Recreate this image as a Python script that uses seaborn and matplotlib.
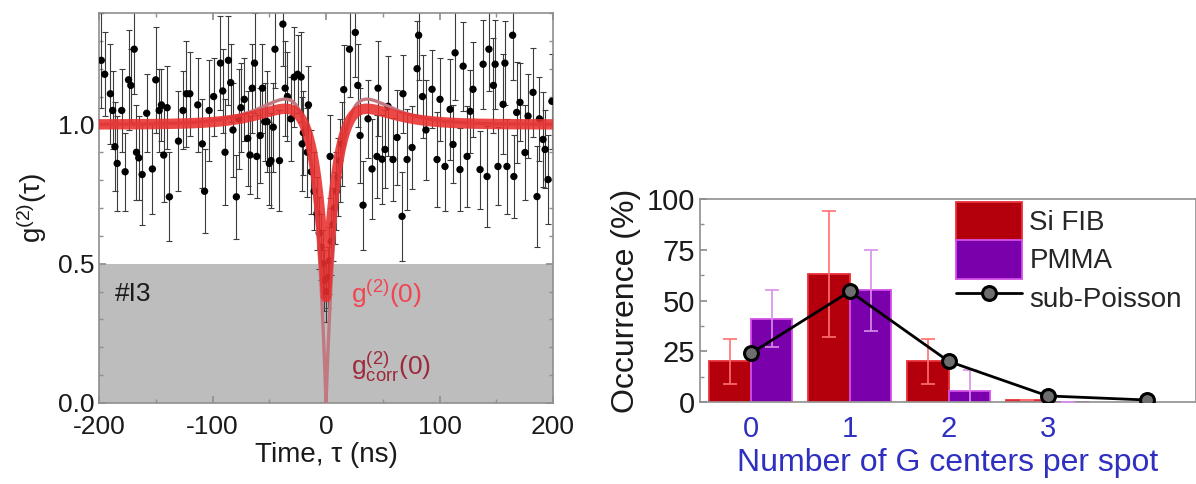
import numpy as np
import pandas as pd
import matplotlib
matplotlib.use("Agg")
import matplotlib.pyplot as plt
import seaborn as sns
from matplotlib.patches import Patch
from matplotlib.lines import Line2D
from matplotlib.ticker import MultipleLocator

# ---------------- data: second-order correlation of emitter #I3 ----------------
tau_ns = [
    -198, -195, -190, -188, -186, -184, -180, -177, -174, -172,
    -169, -167, -165, -162, -158, -153, -150, -147, -145, -143,
    -140, -138, -130, -126, -123, -120, -113, -109, -107, -103,
    -99, -93, -91, -89, -86, -84, -82, -79, -77, -75,
    -72, -69, -67, -65, -63, -61, -58, -56, -54, -52,
    -50, -48.5, -46.5, -45, -41, -38, -36, -34, -31, -28,
    -25, -22, -21, -20, -16.5, -15.5, -13, -10.5, -8, -6,
    -4.5, -3, -1.5, 0, 1.5, 3, 3.6, 4.5, 6, 7.5,
    9, 10.5, 12, 14, 15.6, 20.7, 25.8, 28, 30, 32.6,
    37, 40.5, 44.9, 45.8, 49.4, 52, 54.6, 59, 62.6, 67,
    67.8, 71.4, 75.8, 80.2, 81.6, 85, 88, 93.4, 97.8, 100.4,
    104.8, 109.3, 111.9, 113.7, 118, 120.8, 124.3, 127, 129.5, 135.7,
    138.4, 141.9, 143.5, 147.5, 149, 151.5, 156, 157.6, 159.4, 164.4,
    165.5, 168, 170.9, 175.3, 178, 182.4, 185.9, 188, 191.2, 193,
    195.6, 199,
]
g2_meas = [
    1.23, 1.18, 1.11, 1.05, 0.92, 0.86, 1.05, 0.83, 1.16, 1.14,
    1.27, 0.90, 0.88, 0.82, 1.04, 0.84, 1.16, 1.05, 1.07, 0.89,
    1.06, 0.74, 0.94, 1.05, 1.11, 1.11, 1.07, 0.93, 0.76, 1.05,
    1.10, 1.22, 1.12, 0.90, 1.23, 1.15, 0.98, 0.74, 1.02, 1.06,
    1.09, 0.95, 0.89, 1.13, 1.22, 0.885, 0.96, 1.13, 1.01, 1.01,
    0.86, 0.87, 0.99, 1.27, 0.87, 1.36, 1.13, 1.10, 1.02, 1.17,
    1.18, 1.17, 0.93, 0.97, 0.90, 1.07, 0.83, 0.76, 0.68, 0.61,
    0.56, 0.50, 0.44, 0.40, 0.45, 0.51, 0.885, 0.58, 0.64, 0.70,
    0.76, 0.81, 0.87, 0.93, 1.125, 1.27, 1.33, 1.14, 0.96, 0.71,
    1.02, 0.84, 0.885, 1.13, 0.875, 0.91, 1.065, 0.874, 0.953, 0.67,
    1.11, 0.874, 0.917, 1.20, 1.32, 1.10, 0.98, 1.126, 0.874, 1.09,
    0.849, 1.054, 0.928, 1.257, 0.838, 1.209, 0.885, 1.047, 1.126, 0.838,
    1.216, 0.813, 1.27, 1.14, 1.216, 0.849, 1.072, 1.22, 0.849, 1.32,
    0.813, 1.043, 1.079, 0.899, 1.03, 1.115, 0.741, 1.02, 0.946, 0.91,
    0.802, 1.083,
]
g2_err = [
    0.17, 0.15, 0.18, 0.14, 0.16, 0.17, 0.15, 0.14, 0.18, 0.13,
    0.16, 0.17, 0.15, 0.18, 0.14, 0.16, 0.19, 0.15, 0.13, 0.17,
    0.15, 0.16, 0.18, 0.14, 0.19, 0.15, 0.17, 0.16, 0.15, 0.18,
    0.14, 0.17, 0.15, 0.19, 0.16, 0.14, 0.17, 0.15, 0.18, 0.16,
    0.15, 0.17, 0.14, 0.16, 0.18, 0.15, 0.17, 0.16, 0.14, 0.18,
    0.15, 0.17, 0.16, 0.14, 0.18, 0.15, 0.17, 0.16, 0.15, 0.18,
    0.14, 0.16, 0.17, 0.15, 0.16, 0.14, 0.15, 0.14, 0.13, 0.13,
    0.12, 0.12, 0.11, 0.11, 0.11, 0.12, 0.15, 0.12, 0.13, 0.13,
    0.14, 0.14, 0.15, 0.15, 0.16, 0.17, 0.16, 0.15, 0.17, 0.16,
    0.14, 0.18, 0.15, 0.17, 0.16, 0.14, 0.18, 0.15, 0.17, 0.16,
    0.14, 0.18, 0.15, 0.17, 0.16, 0.15, 0.18, 0.14, 0.17, 0.15,
    0.16, 0.18, 0.14, 0.17, 0.15, 0.16, 0.18, 0.15, 0.17, 0.14,
    0.16, 0.18, 0.15, 0.17, 0.16, 0.14, 0.18, 0.15, 0.17, 0.16,
    0.15, 0.18, 0.14, 0.17, 0.15, 0.16, 0.18, 0.15, 0.17, 0.14,
    0.16, 0.17,
]

# three-level emitter model fitted to the histogram
g2_zero_raw = 0.38      # measured g2(0)
bunch_amp = 0.65        # bunching amplitude
tau_anti = 11.5         # antibunching time (ns)
tau_bunch = 26.0        # bunching time (ns)

# ---------------- data: statistics of G centers per spot ----------------
n_centers = [0, 1, 2, 3]
si_fib = [20, 63, 20, 1]
si_fib_err = [11, 31, 11, 0]
pmma = [41, 55, 5.6, 0]
pmma_err = [14, 20, 10, 0]
poisson_n = [0, 1, 2, 3, 4]
sub_poisson = [24, 54.5, 20, 3, 1]

# ---------------- style ----------------
sns.set_theme(style="ticks")
plt.rcParams["font.family"] = ["Liberation Sans", "DejaVu Sans"]
plt.rcParams["mathtext.fontset"] = "custom"
plt.rcParams["mathtext.rm"] = "Liberation Sans"
plt.rcParams["mathtext.it"] = "Liberation Sans:italic"
plt.rcParams["axes.edgecolor"] = "#8f8f8f"
plt.rcParams["axes.linewidth"] = 1.2
plt.rcParams["axes.unicode_minus"] = False

RED_FIT = "#e8302f"
CORR = "#c27880"
BAR_RED = "#b4000c"
BAR_PURPLE = "#7a00ac"
BLUE = "#2f2fc0"

fig = plt.figure(figsize=(11.96, 4.84), dpi=100)

# ======================= left: g2(tau) =======================
ax = fig.add_axes([0.0828, 0.1674, 0.3796, 0.8058])
ax.axhspan(0, 0.5, color="#bdbdbd", zorder=0, lw=0)

ax.errorbar(tau_ns, g2_meas, yerr=g2_err, fmt="none", ecolor="#3c3c3c",
            elinewidth=0.8, capsize=2.2, capthick=0.8, zorder=2)
sns.scatterplot(x=tau_ns, y=g2_meas, ax=ax, color="black", s=28,
                edgecolor="none", zorder=3)

tau_fit = np.linspace(-200, 200, 4001)
g_corr = (1 - (1 + bunch_amp) * np.exp(-np.abs(tau_fit) / tau_anti)
          + bunch_amp * np.exp(-np.abs(tau_fit) / tau_bunch))
g_raw = 1 - (1 - g2_zero_raw) * (1 - g_corr)

ax.plot(tau_fit, g_corr, color=CORR, lw=2.4, zorder=4)
ax.plot(tau_fit, g_raw, color=RED_FIT, lw=7.5, alpha=0.88, zorder=5,
        solid_capstyle="butt")

ax.text(-186, 0.39, "#I3", fontsize=19, color="#1a1a1a", va="center", ha="left")
ax.text(22, 0.39, "g$^{(2)}$(0)", fontsize=19, color="#f04650", va="center", ha="left")
ax.text(22, 0.13, r"g$^{(2)}_{\mathrm{corr}}$(0)", fontsize=19, color="#9c2a3c",
        va="center", ha="left")

ax.set_xlim(-200, 200)
ax.set_ylim(0, 1.4)
ax.xaxis.set_major_locator(MultipleLocator(100))
ax.xaxis.set_minor_locator(MultipleLocator(50))
ax.yaxis.set_major_locator(MultipleLocator(0.5))
ax.yaxis.set_minor_locator(MultipleLocator(0.1))
ax.set_yticks([0, 0.5, 1.0])
ax.set_yticklabels(["0.0", "0.5", "1.0"])
ax.tick_params(which="both", direction="in", top=True, right=True,
               colors="#8f8f8f", labelcolor="#1a1a1a", labelsize=19)
ax.tick_params(which="major", length=5)
ax.tick_params(which="minor", length=3)
ax.tick_params(axis="x", pad=9)
ax.set_xlabel("Time, τ (ns)", fontsize=20, color="#1a1a1a", labelpad=2)
ax.set_ylabel("g$^{(2)}$(τ)", fontsize=20, color="#1a1a1a", labelpad=6)

# ======================= right: occurrence histogram =======================
ax2 = fig.add_axes([0.5853, 0.1694, 0.4147, 0.4194])
df = pd.DataFrame({
    "n": n_centers * 2,
    "occ": si_fib + pmma,
    "sample": ["Si FIB"] * len(n_centers) + ["PMMA"] * len(n_centers),
})
sns.barplot(data=df, x="n", y="occ", hue="sample", hue_order=["Si FIB", "PMMA"],
            palette=[BAR_RED, BAR_PURPLE], width=0.84, errorbar=None,
            saturation=1, legend=False, ax=ax2, zorder=2)

edge_cols = ["#e8303a", "#d24fe6"]
err_cols = ["#ff7070", "#d890ea"]
for cont, errs, ec, errc in zip(ax2.containers, [si_fib_err, pmma_err],
                                edge_cols, err_cols):
    xs, hs = [], []
    for p in cont:
        p.set_edgecolor(ec)
        p.set_linewidth(1.3)
        xs.append(p.get_x() + p.get_width() / 2)
        hs.append(p.get_height())
    ax2.errorbar(xs, hs, yerr=errs, fmt="none", ecolor=errc, elinewidth=1.2,
                 capsize=5, capthick=1.2, zorder=3)

MARKER_FACE = "#6e6e6e"
sns.lineplot(x=poisson_n, y=sub_poisson, ax=ax2, color="black", lw=2.0,
             marker="o", markersize=10, markerfacecolor=MARKER_FACE,
             markeredgecolor="black", markeredgewidth=2.2, zorder=4)

ax2.set_xlim(-0.515, 4.5)
ax2.set_ylim(0, 100)
ax2.set_xticks(n_centers)
ax2.set_xticklabels([str(v) for v in n_centers])
ax2.yaxis.set_major_locator(MultipleLocator(25))
ax2.yaxis.set_minor_locator(MultipleLocator(12.5))
ax2.tick_params(which="both", direction="in", colors="#8f8f8f", labelsize=21)
ax2.tick_params(axis="x", length=0, labelcolor=BLUE, pad=9)
ax2.tick_params(axis="y", which="major", length=5, labelcolor="#1a1a1a")
ax2.tick_params(axis="y", which="minor", length=3)
ax2.set_xlabel("Number of G centers per spot", fontsize=23, color=BLUE, labelpad=4)
ax2.set_ylabel("Occurrence (%)", fontsize=23, color="#1a1a1a", labelpad=4)

handles = [
    Patch(facecolor=BAR_RED, edgecolor=edge_cols[0], lw=1.3),
    Patch(facecolor=BAR_PURPLE, edgecolor=edge_cols[1], lw=1.3),
    Line2D([], [], color="black", lw=2.0, marker="o", markersize=10,
           markerfacecolor=MARKER_FACE, markeredgecolor="black", markeredgewidth=2.2),
]
ax2.legend(handles, ["Si FIB", "PMMA", "sub-Poisson"], loc="upper left",
           bbox_to_anchor=(0.51, 1.0), frameon=False, fontsize=20,
           handlelength=2.4, handleheight=1.75, handletextpad=0.25,
           labelspacing=0.0, borderpad=0.1, borderaxespad=0.0)

fig.savefig("out.png", dpi=100)
